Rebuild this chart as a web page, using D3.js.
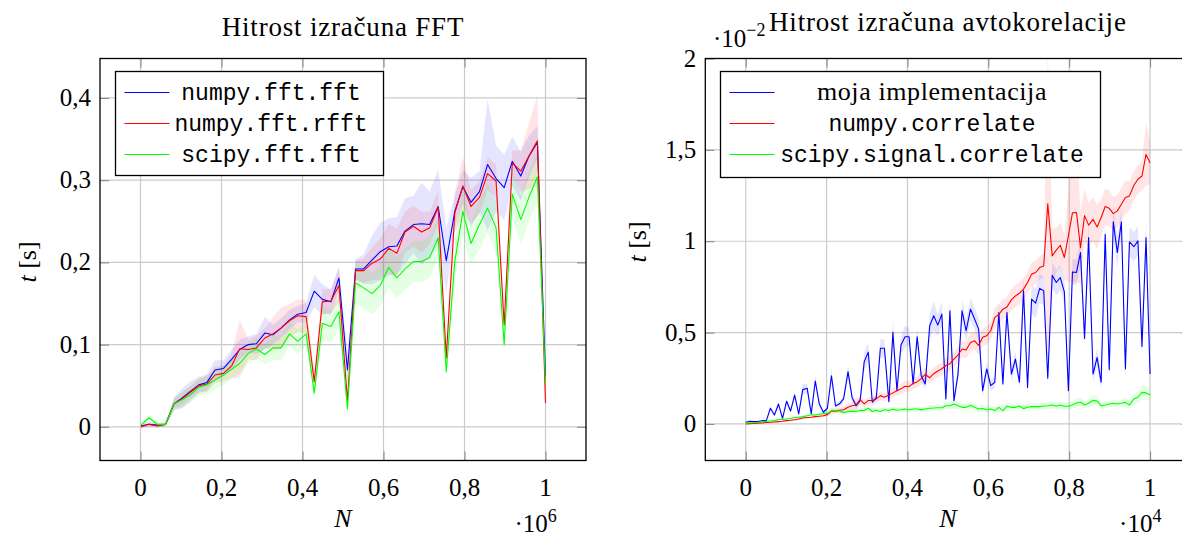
<!DOCTYPE html>
<html>
<head>
<meta charset="utf-8">
<script src="https://cdn.jsdelivr.net/npm/d3@7/dist/d3.min.js"></script>
<style>
  body { margin: 0; background: #fff; }
  svg { display: block; }
  text { font-family: 'Liberation Serif', 'Times New Roman', serif; fill: #000; }
  .mono { font-family: 'Liberation Mono', 'DejaVu Sans Mono', monospace; }
</style>
</head>
<body>
<div id="chart"></div>
<script>
// ---- left chart: FFT timings (N in units of 10^6, t in s) ----
var fftN = [0.001, 0.021, 0.042, 0.062, 0.083, 0.103, 0.123, 0.144, 0.164, 0.184,
  0.205, 0.225, 0.245, 0.266, 0.286, 0.307, 0.327, 0.347, 0.368, 0.388,
  0.409, 0.429, 0.449, 0.470, 0.490, 0.511, 0.531, 0.551, 0.572, 0.592,
  0.613, 0.633, 0.653, 0.674, 0.694, 0.714, 0.735, 0.755, 0.776, 0.796,
  0.816, 0.837, 0.857, 0.878, 0.898, 0.918, 0.939, 0.959, 0.980, 1.000];

var numpyFft = [0.001, 0.003, 0.002, 0.003, 0.028, 0.035, 0.043, 0.051, 0.054, 0.069,
  0.071, 0.082, 0.094, 0.100, 0.101, 0.114, 0.112, 0.120, 0.130, 0.137,
  0.139, 0.165, 0.155, 0.152, 0.181, 0.069, 0.192, 0.192, 0.203, 0.213,
  0.219, 0.220, 0.238, 0.246, 0.247, 0.246, 0.268, 0.202, 0.262, 0.292,
  0.273, 0.286, 0.319, 0.302, 0.291, 0.323, 0.305, 0.329, 0.346, 0.061];
var numpyFftSd = [0.002, 0.003, 0.002, 0.002, 0.008, 0.012, 0.012, 0.010, 0.010, 0.012,
  0.010, 0.012, 0.012, 0.010, 0.012, 0.020, 0.012, 0.012, 0.012, 0.010,
  0.012, 0.020, 0.018, 0.015, 0.015, 0.020, 0.012, 0.018, 0.030, 0.035,
  0.035, 0.035, 0.040, 0.035, 0.050, 0.040, 0.045, 0.040, 0.020, 0.020,
  0.030, 0.025, 0.080, 0.040, 0.040, 0.030, 0.030, 0.025, 0.020, 0.010];

var numpyRfft = [0.000, 0.003, 0.001, 0.003, 0.028, 0.034, 0.042, 0.050, 0.052, 0.063,
  0.065, 0.074, 0.095, 0.094, 0.096, 0.108, 0.113, 0.120, 0.129, 0.135,
  0.134, 0.055, 0.152, 0.153, 0.172, 0.031, 0.190, 0.190, 0.199, 0.204,
  0.217, 0.211, 0.237, 0.244, 0.237, 0.242, 0.267, 0.084, 0.260, 0.293,
  0.268, 0.279, 0.308, 0.299, 0.124, 0.321, 0.311, 0.329, 0.348, 0.029];
var numpyRfftSd = [0.002, 0.002, 0.002, 0.002, 0.006, 0.008, 0.008, 0.008, 0.010, 0.010,
  0.010, 0.015, 0.035, 0.012, 0.015, 0.012, 0.020, 0.025, 0.020, 0.020,
  0.020, 0.010, 0.015, 0.015, 0.020, 0.010, 0.012, 0.015, 0.020, 0.025,
  0.030, 0.030, 0.025, 0.025, 0.025, 0.020, 0.020, 0.010, 0.025, 0.035,
  0.020, 0.020, 0.020, 0.020, 0.010, 0.015, 0.025, 0.040, 0.055, 0.005];

var scipyFft = [0.002, 0.011, 0.003, 0.003, 0.028, 0.033, 0.039, 0.048, 0.051, 0.057,
  0.063, 0.070, 0.077, 0.089, 0.095, 0.088, 0.096, 0.096, 0.113, 0.104,
  0.113, 0.041, 0.126, 0.122, 0.140, 0.022, 0.175, 0.169, 0.162, 0.172,
  0.194, 0.181, 0.192, 0.201, 0.201, 0.206, 0.230, 0.067, 0.201, 0.262,
  0.223, 0.246, 0.266, 0.242, 0.100, 0.283, 0.252, 0.279, 0.304, 0.053];
var scipyFftSd = [0.003, 0.004, 0.003, 0.003, 0.008, 0.010, 0.010, 0.010, 0.012, 0.012,
  0.012, 0.012, 0.012, 0.012, 0.012, 0.012, 0.015, 0.015, 0.015, 0.015,
  0.015, 0.008, 0.020, 0.020, 0.020, 0.008, 0.025, 0.025, 0.025, 0.025,
  0.025, 0.025, 0.025, 0.025, 0.025, 0.025, 0.025, 0.008, 0.025, 0.030,
  0.025, 0.030, 0.030, 0.030, 0.010, 0.030, 0.030, 0.030, 0.030, 0.010];

// ---- right chart: autocorrelation timings (N in units of 10^4, t in units of 10^-2 s) ----
var corrN = [0.000, 0.010, 0.020, 0.030, 0.040, 0.051, 0.061, 0.071, 0.081, 0.091,
  0.101, 0.111, 0.121, 0.131, 0.141, 0.152, 0.162, 0.172, 0.182, 0.192,
  0.202, 0.212, 0.222, 0.232, 0.242, 0.253, 0.263, 0.273, 0.283, 0.293,
  0.303, 0.313, 0.323, 0.333, 0.343, 0.354, 0.364, 0.374, 0.384, 0.394,
  0.404, 0.414, 0.424, 0.434, 0.444, 0.455, 0.465, 0.475, 0.485, 0.495,
  0.505, 0.515, 0.525, 0.535, 0.545, 0.556, 0.566, 0.576, 0.586, 0.596,
  0.606, 0.616, 0.626, 0.636, 0.646, 0.657, 0.667, 0.677, 0.687, 0.697,
  0.707, 0.717, 0.727, 0.737, 0.747, 0.758, 0.768, 0.778, 0.788, 0.798,
  0.808, 0.818, 0.828, 0.838, 0.848, 0.859, 0.869, 0.879, 0.889, 0.899,
  0.909, 0.919, 0.929, 0.939, 0.949, 0.960, 0.970, 0.980, 0.990, 1.000];

var mojaImpl = [0.009, 0.015, 0.013, 0.013, 0.018, 0.018, 0.086, 0.049, 0.109, 0.031,
  0.124, 0.071, 0.158, 0.055, 0.188, 0.195, 0.055, 0.235, 0.109, 0.064,
  0.086, 0.264, 0.098, 0.110, 0.137, 0.286, 0.145, 0.100, 0.128, 0.340,
  0.393, 0.120, 0.145, 0.414, 0.414, 0.122, 0.501, 0.182, 0.432, 0.477,
  0.477, 0.219, 0.477, 0.264, 0.219, 0.537, 0.592, 0.541, 0.601, 0.137,
  0.619, 0.127, 0.273, 0.619, 0.510, 0.628, 0.574, 0.519, 0.182, 0.301,
  0.210, 0.228, 0.610, 0.219, 0.610, 0.273, 0.355, 0.228, 0.729, 0.200,
  0.683, 0.661, 0.742, 0.729, 0.250, 0.814, 0.774, 0.801, 0.723, 0.182,
  0.832, 0.829, 0.938, 0.468, 1.020, 0.273, 0.364, 0.228, 1.038, 0.297,
  1.106, 0.938, 1.106, 0.301, 0.996, 0.970, 1.002, 0.424, 1.020, 0.273];
var mojaImplSd = [0.003, 0.003, 0.003, 0.003, 0.004, 0.004, 0.010, 0.008, 0.015, 0.006,
  0.015, 0.010, 0.020, 0.010, 0.030, 0.025, 0.010, 0.030, 0.015, 0.010,
  0.012, 0.040, 0.015, 0.015, 0.020, 0.040, 0.020, 0.015, 0.020, 0.050,
  0.055, 0.020, 0.020, 0.050, 0.050, 0.020, 0.070, 0.025, 0.050, 0.060,
  0.050, 0.030, 0.050, 0.030, 0.030, 0.070, 0.080, 0.060, 0.070, 0.020,
  0.070, 0.020, 0.040, 0.060, 0.060, 0.060, 0.060, 0.060, 0.030, 0.040,
  0.030, 0.030, 0.060, 0.030, 0.060, 0.040, 0.040, 0.030, 0.080, 0.030,
  0.080, 0.080, 0.080, 0.080, 0.040, 0.070, 0.070, 0.070, 0.070, 0.030,
  0.070, 0.070, 0.080, 0.050, 0.080, 0.040, 0.050, 0.040, 0.080, 0.040,
  0.080, 0.080, 0.080, 0.040, 0.080, 0.080, 0.080, 0.050, 0.080, 0.040];

var numpyCorr = [0.000, 0.002, 0.003, 0.004, 0.006, 0.008, 0.009, 0.011, 0.013, 0.015,
  0.018, 0.020, 0.023, 0.027, 0.033, 0.035, 0.037, 0.040, 0.042, 0.045,
  0.051, 0.071, 0.070, 0.075, 0.078, 0.091, 0.100, 0.104, 0.133, 0.110,
  0.128, 0.128, 0.137, 0.155, 0.146, 0.158, 0.170, 0.182, 0.192, 0.206,
  0.204, 0.222, 0.230, 0.248, 0.271, 0.253, 0.275, 0.290, 0.302, 0.320,
  0.330, 0.355, 0.377, 0.410, 0.405, 0.446, 0.455, 0.430, 0.474, 0.483,
  0.510, 0.583, 0.600, 0.628, 0.640, 0.679, 0.701, 0.715, 0.738, 0.774,
  0.820, 0.829, 0.856, 0.865, 1.205, 0.920, 0.951, 0.978, 0.911, 1.030,
  1.155, 1.157, 0.965, 1.140, 1.088, 1.120, 1.078, 1.130, 1.190, 1.180,
  1.151, 1.166, 1.202, 1.239, 1.248, 1.306, 1.339, 1.357, 1.475, 1.430];
var numpyCorrSd = [0.002, 0.002, 0.002, 0.002, 0.003, 0.003, 0.003, 0.003, 0.003, 0.004,
  0.004, 0.004, 0.005, 0.005, 0.006, 0.006, 0.006, 0.007, 0.007, 0.008,
  0.010, 0.020, 0.015, 0.015, 0.015, 0.020, 0.020, 0.040, 0.020, 0.020,
  0.020, 0.020, 0.020, 0.025, 0.020, 0.025, 0.025, 0.025, 0.030, 0.030,
  0.030, 0.030, 0.030, 0.035, 0.040, 0.030, 0.035, 0.035, 0.035, 0.040,
  0.040, 0.040, 0.045, 0.045, 0.045, 0.050, 0.050, 0.050, 0.050, 0.050,
  0.050, 0.055, 0.055, 0.055, 0.055, 0.060, 0.060, 0.060, 0.060, 0.060,
  0.065, 0.065, 0.065, 0.065, 0.850, 0.150, 0.120, 0.120, 0.120, 0.250,
  0.380, 0.380, 0.200, 0.150, 0.120, 0.120, 0.120, 0.100, 0.100, 0.100,
  0.090, 0.090, 0.090, 0.090, 0.080, 0.080, 0.080, 0.080, 0.170, 0.120];

var scipyCorr = [0.005, 0.006, 0.007, 0.008, 0.010, 0.014, 0.016, 0.018, 0.024, 0.025,
  0.027, 0.030, 0.035, 0.037, 0.040, 0.045, 0.050, 0.049, 0.053, 0.057,
  0.058, 0.071, 0.073, 0.071, 0.062, 0.068, 0.070, 0.068, 0.075, 0.074,
  0.086, 0.068, 0.075, 0.068, 0.078, 0.074, 0.082, 0.075, 0.078, 0.082,
  0.078, 0.082, 0.082, 0.077, 0.082, 0.086, 0.087, 0.089, 0.089, 0.100,
  0.100, 0.109, 0.100, 0.091, 0.091, 0.102, 0.091, 0.082, 0.085, 0.078,
  0.082, 0.073, 0.091, 0.073, 0.096, 0.091, 0.091, 0.098, 0.084, 0.091,
  0.095, 0.095, 0.095, 0.098, 0.100, 0.104, 0.097, 0.104, 0.097, 0.097,
  0.104, 0.115, 0.120, 0.104, 0.113, 0.130, 0.125, 0.100, 0.104, 0.109,
  0.113, 0.109, 0.113, 0.118, 0.104, 0.137, 0.146, 0.173, 0.170, 0.160];
var scipyCorrSd = [0.002, 0.002, 0.002, 0.002, 0.003, 0.003, 0.003, 0.004, 0.004, 0.004,
  0.005, 0.005, 0.005, 0.006, 0.006, 0.006, 0.007, 0.007, 0.008, 0.008,
  0.010, 0.012, 0.012, 0.012, 0.012, 0.015, 0.015, 0.015, 0.015, 0.015,
  0.018, 0.015, 0.015, 0.015, 0.015, 0.015, 0.015, 0.015, 0.015, 0.015,
  0.015, 0.015, 0.015, 0.015, 0.015, 0.018, 0.018, 0.018, 0.018, 0.020,
  0.020, 0.025, 0.020, 0.020, 0.020, 0.020, 0.020, 0.020, 0.020, 0.020,
  0.020, 0.020, 0.020, 0.020, 0.020, 0.020, 0.020, 0.020, 0.020, 0.020,
  0.020, 0.020, 0.020, 0.020, 0.020, 0.020, 0.020, 0.020, 0.020, 0.020,
  0.020, 0.025, 0.025, 0.020, 0.025, 0.030, 0.025, 0.020, 0.020, 0.020,
  0.020, 0.020, 0.020, 0.025, 0.025, 0.030, 0.030, 0.040, 0.040, 0.030];

// tick values
var xTicks = [0, 0.2, 0.4, 0.6, 0.8, 1];
var fftYTicks = [0, 0.1, 0.2, 0.3, 0.4];
var corrYTicks = [0, 0.5, 1, 1.5, 2];

// decimal comma like the original
var locale = d3.formatLocale({decimal: ',', thousands: '.', grouping: [3], currency: ['', '']});
var fmt = function (d) { return locale.format('~g')(d); };

var svg = d3
  .select('#chart')
  .append('svg')
  .attr('width', 1182)
  .attr('height', 538);

function drawPanel(cfg) {
  var x = d3.scaleLinear().domain(cfg.xDomain).range([cfg.left, cfg.right]);
  var y = d3.scaleLinear().domain(cfg.yDomain).range([cfg.bottom, cfg.top]);
  var g = svg.append('g');

  // grid
  g.append('g')
    .selectAll('line')
    .data(xTicks)
    .enter()
    .append('line')
    .attr('x1', function (d) { return x(d); })
    .attr('x2', function (d) { return x(d); })
    .attr('y1', cfg.top)
    .attr('y2', cfg.bottom)
    .attr('stroke', '#cbcbcb')
    .attr('stroke-width', 1.2);
  g.append('g')
    .selectAll('line')
    .data(cfg.yTicks)
    .enter()
    .append('line')
    .attr('x1', cfg.left)
    .attr('x2', cfg.right)
    .attr('y1', function (d) { return y(d); })
    .attr('y2', function (d) { return y(d); })
    .attr('stroke', '#cbcbcb')
    .attr('stroke-width', 1.2);

  // tick marks on all four sides, pointing inwards
  var tl = 9;
  var axes = [
    [d3.axisBottom(x).tickValues(xTicks).tickSizeInner(-tl), 'translate(0,' + cfg.bottom + ')'],
    [d3.axisTop(x).tickValues(xTicks).tickSizeInner(-tl), 'translate(0,' + cfg.top + ')'],
    [d3.axisLeft(y).tickValues(cfg.yTicks).tickSizeInner(-tl), 'translate(' + cfg.left + ',0)'],
    [d3.axisRight(y).tickValues(cfg.yTicks).tickSizeInner(-tl), 'translate(' + cfg.right + ',0)']
  ];
  axes.forEach(function (a) {
    var ax = g.append('g')
      .attr('transform', a[1])
      .call(a[0].tickSizeOuter(0).tickFormat(''));
    ax.select('.domain').remove();
    ax.selectAll('line').attr('stroke', '#8a8a8a').attr('stroke-width', 1.1);
  });

  // tick labels
  g.append('g')
    .selectAll('text')
    .data(xTicks)
    .enter()
    .append('text')
    .attr('x', function (d) { return x(d); })
    .attr('y', cfg.bottom + 35)
    .attr('text-anchor', 'middle')
    .style('font-size', '25px')
    .text(fmt);
  g.append('g')
    .selectAll('text')
    .data(cfg.yTicks)
    .enter()
    .append('text')
    .attr('x', cfg.left - 9)
    .attr('y', function (d) { return y(d) + 8; })
    .attr('text-anchor', 'end')
    .style('font-size', '25px')
    .text(fmt);

  // clip region for the data
  var clipId = 'clip' + cfg.id;
  svg.append('clipPath')
    .attr('id', clipId)
    .append('rect')
    .attr('x', cfg.left)
    .attr('y', cfg.top)
    .attr('width', cfg.right - cfg.left)
    .attr('height', cfg.bottom - cfg.top);
  var plot = g.append('g').attr('clip-path', 'url(#' + clipId + ')');

  cfg.series.forEach(function (s) {
    var area = d3.area()
      .x(function (d, i) { return x(cfg.xs[i]); })
      .y0(function (d, i) { return y(d - s.sd[i]); })
      .y1(function (d, i) { return y(d + s.sd[i]); });
    plot.append('path')
      .datum(s.values)
      .attr('d', area)
      .attr('fill', s.color)
      .attr('fill-opacity', 0.1)
      .attr('stroke', 'none');
  });
  cfg.series.forEach(function (s) {
    var line = d3.line()
      .x(function (d, i) { return x(cfg.xs[i]); })
      .y(function (d) { return y(d); });
    plot.append('path')
      .datum(s.values)
      .attr('d', line)
      .attr('fill', 'none')
      .attr('stroke', s.color)
      .attr('stroke-width', 1.1)
      .attr('stroke-linejoin', 'round');
  });

  // frame
  g.append('rect')
    .attr('x', cfg.left)
    .attr('y', cfg.top)
    .attr('width', cfg.right - cfg.left)
    .attr('height', cfg.bottom - cfg.top)
    .attr('fill', 'none')
    .attr('stroke', '#000')
    .attr('stroke-width', 1.3);

  // title
  g.append('text')
    .attr('x', (cfg.left + cfg.right) / 2)
    .attr('y', cfg.titleY)
    .attr('text-anchor', 'middle')
    .style('font-size', '27px')
    .style('letter-spacing', '0.8px')
    .text(cfg.title);

  // axis labels
  g.append('text')
    .attr('x', x(0.5))
    .attr('y', 527)
    .attr('text-anchor', 'middle')
    .style('font-size', '26px')
    .style('font-style', 'italic')
    .text('N');
  var yl = g.append('text')
    .attr('transform', 'translate(' + cfg.yLabelX + ',' + cfg.yLabelY + ') rotate(-90)')
    .attr('text-anchor', 'middle')
    .style('font-size', '26px');
  yl.append('tspan').style('font-style', 'italic').text('t');
  yl.append('tspan').text(' [s]');

  // x scale factor
  var xf = g.append('text')
    .attr('x', x(1) - 31)
    .attr('y', 532)
    .style('font-size', '25px');
  xf.append('tspan').text('\u00b710');
  xf.append('tspan').attr('dy', -10).style('font-size', '18px').text(cfg.xExp);

  // legend
  var lg = g.append('g');
  lg.append('rect')
    .attr('x', cfg.legend.x)
    .attr('y', cfg.legend.y)
    .attr('width', cfg.legend.w)
    .attr('height', cfg.legend.h)
    .attr('fill', '#fff')
    .attr('stroke', '#000')
    .attr('stroke-width', 1.3);
  cfg.series.forEach(function (s, i) {
    var ry = cfg.legend.y + 21 + i * 31;
    lg.append('line')
      .attr('x1', cfg.legend.x + 9)
      .attr('x2', cfg.legend.x + 54)
      .attr('y1', ry)
      .attr('y2', ry)
      .attr('stroke', s.color)
      .attr('stroke-width', 1.1);
    lg.append('text')
      .attr('class', s.mono ? 'mono' : null)
      .attr('x', cfg.legend.cx)
      .attr('y', ry + 7)
      .attr('text-anchor', 'middle')
      .style('font-size', s.mono ? '23px' : '26px')
      .style('letter-spacing', s.mono ? null : '0.6px')
      .text(s.name);
  });
  return {x: x, y: y, g: g};
}

drawPanel({
  id: 'fft',
  left: 100, right: 586, top: 58.5, bottom: 460.5,
  xDomain: [-0.1, 1.1], yDomain: [-0.041, 0.448],
  yTicks: fftYTicks,
  xs: fftN,
  title: 'Hitrost izra\u010duna FFT', titleY: 36,
  yLabelX: 36, yLabelY: 262,
  xExp: '6',
  legend: {x: 115.5, y: 71.5, w: 268, h: 104, cx: 271},
  series: [
    {name: 'numpy.fft.fft', values: numpyFft, sd: numpyFftSd, color: '#0000ff', mono: true},
    {name: 'numpy.fft.rfft', values: numpyRfft, sd: numpyRfftSd, color: '#ff0000', mono: true},
    {name: 'scipy.fft.fft', values: scipyFft, sd: scipyFftSd, color: '#00ff00', mono: true}
  ]
});

drawPanel({
  id: 'corr',
  left: 705.3, right: 1190.5, top: 58.5, bottom: 460.5,
  xDomain: [-0.1, 1.1], yDomain: [-0.2, 2.0],
  yTicks: corrYTicks,
  xs: corrN,
  title: 'Hitrost izra\u010duna avtokorelacije', titleY: 31,
  yLabelX: 646, yLabelY: 242,
  xExp: '4',
  legend: {x: 720.5, y: 71.5, w: 380, h: 106, cx: 932},
  series: [
    {name: 'moja implementacija', values: mojaImpl, sd: mojaImplSd, color: '#0000ff', mono: false},
    {name: 'numpy.correlate', values: numpyCorr, sd: numpyCorrSd, color: '#ff0000', mono: true},
    {name: 'scipy.signal.correlate', values: scipyCorr, sd: scipyCorrSd, color: '#00ff00', mono: true}
  ]
});

// y scale factor of the right chart
var yf = svg.append('text')
  .attr('x', 713)
  .attr('y', 47)
  .style('font-size', '25px');
yf.append('tspan').text('\u00b710');
yf.append('tspan').attr('dy', -11).style('font-size', '18px').text('\u22122');
</script>
</body>
</html>
